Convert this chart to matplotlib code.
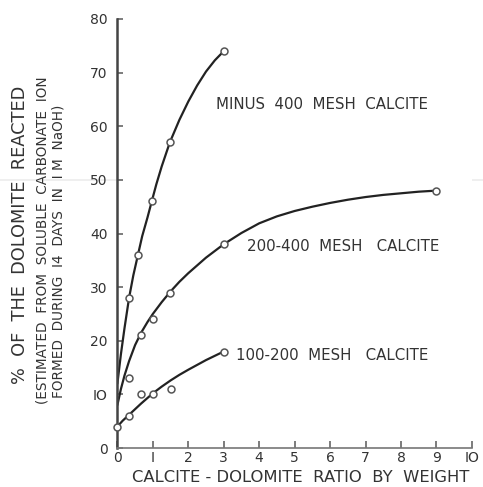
import matplotlib
matplotlib.use('Agg')
import matplotlib.pyplot as plt
from matplotlib.lines import Line2D

# measured points (open circles)
m400_x = [0.33, 0.58, 0.97, 1.48, 3.0]
m400_y = [28, 36, 46, 57, 74]
m200_400_x = [0.33, 0.67, 1.0, 1.48, 3.0, 9.0]
m200_400_y = [13, 21, 24, 29, 38, 48]
m100_200_x = [0.0, 0.33, 0.67, 1.0, 1.5, 3.0]
m100_200_y = [4, 6, 10, 10, 11, 18]

# hand drawn curves
c400_x = [0, 0.1, 0.2, 0.33, 0.45, 0.58, 0.7, 0.85, 0.97, 1.1, 1.25, 1.48,
          1.75, 2.0, 2.25, 2.5, 2.75, 3.0]
c400_y = [12, 17.5, 22.3, 28, 32.2, 36, 39.5, 43, 46, 49.2, 52.5, 57,
          61.2, 64.6, 67.6, 70.2, 72.3, 74]
c200_400_x = [0, 0.1, 0.2, 0.33, 0.5, 0.67, 0.85, 1.0, 1.25, 1.5, 1.75, 2, 2.5, 3,
              3.5, 4, 4.5, 5, 5.5, 6, 6.5, 7, 7.5, 8, 8.5, 9]
c200_400_y = [8, 11, 13.5, 16.2, 19.2, 21.5, 23.5, 25.0, 27.2, 29.2, 31.0, 32.6, 35.5, 38,
              40.1, 41.9, 43.2, 44.2, 45.0, 45.7, 46.3, 46.8, 47.2, 47.5, 47.8, 48]
c100_200_x = [0, 0.15, 0.33, 0.67, 1.0, 1.25, 1.5, 1.75, 2, 2.25, 2.5, 2.75, 3]
c100_200_y = [4, 5.1, 6.2, 8.3, 10.2, 11.45, 12.6, 13.65, 14.6, 15.5, 16.4, 17.2, 18]

labels = ['MINUS  400  MESH  CALCITE', '200-400  MESH   CALCITE', '100-200  MESH   CALCITE']
label_pos = [(2.78, 64.0), (3.65, 37.5), (3.34, 17.2)]

xticks = list(range(0, 11))
xtick_labels = ['0', 'I', '2', '3', '4', '5', '6', '7', '8', '9', 'IO']
yticks = list(range(0, 81, 10))
ytick_labels = ['0', 'IO', '20', '30', '40', '50', '60', '70', '80']

plt.rcParams['font.family'] = ['DejaVu Sans']

fig = plt.figure(figsize=(4.83, 4.87), dpi=100)
ax = fig.add_axes([0.243, 0.080, 0.734, 0.881])

# faint scan line
fig.add_artist(Line2D([0, 1], [1 - 180 / 487, 1 - 180 / 487], color='#ececec', lw=1.2, zorder=0))

ink = '#222222'
for cx, cy in [(c400_x, c400_y), (c200_400_x, c200_400_y), (c100_200_x, c100_200_y)]:
    ax.plot(cx, cy, color=ink, lw=1.6, solid_capstyle='round', solid_joinstyle='round', zorder=2)
for mx, my in [(m400_x, m400_y), (m200_400_x, m200_400_y), (m100_200_x, m100_200_y)]:
    ax.plot(mx, my, ls='none', marker='o', ms=5, mfc='white', mec='#555555', mew=1.1, zorder=3, clip_on=False)

for txt, (tx, ty) in zip(labels, label_pos):
    ax.text(tx, ty, txt, fontsize=10.8, color='#333333', va='center', ha='left')

ax.set_xlim(0, 10)
ax.set_ylim(0, 80)
ax.spines['top'].set_visible(False)
ax.spines['right'].set_visible(False)
ax.spines['left'].set_color('#444444')
ax.spines['bottom'].set_color('#777777')
ax.spines['left'].set_linewidth(1.8)
ax.spines['bottom'].set_linewidth(1.2)
ax.set_xticks(xticks)
ax.set_xticklabels(xtick_labels)
ax.set_yticks(yticks)
ax.set_yticklabels(ytick_labels)
ax.tick_params(axis='x', direction='in', length=5, width=1.2, color='#666666', labelsize=10, pad=2, labelcolor='#333333')
ax.tick_params(axis='y', direction='in', length=4, width=1.2, color='#666666', labelsize=10, pad=7, labelcolor='#333333')

fig.text(0.622, 0.005, 'CALCITE - DOLOMITE  RATIO  BY  WEIGHT', ha='center', va='bottom',
         fontsize=11.8, color='#333333')
fig.text(0.041, 0.517, '%  OF  THE  DOLOMITE  REACTED', rotation=90, ha='center', va='center',
         fontsize=12.8, color='#333333')
fig.text(0.087, 0.507, '(ESTIMATED  FROM  SOLUBLE  CARBONATE  ION', rotation=90, ha='center', va='center',
         fontsize=9.8, color='#333333')
fig.text(0.121, 0.484, 'FORMED  DURING  I4  DAYS  IN  I M  NaOH)', rotation=90, ha='center', va='center',
         fontsize=9.8, color='#333333')

fig.savefig('out.png', dpi=100, facecolor='white')
